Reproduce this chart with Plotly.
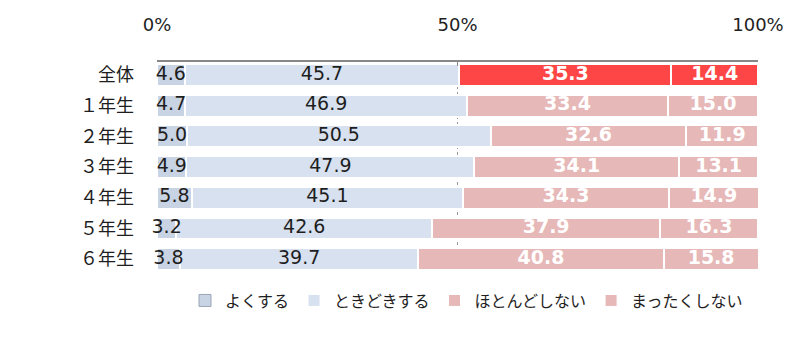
import plotly.graph_objects as go

categories = ["全体", "１年生", "２年生", "３年生", "４年生", "５年生", "６年生"]
series_names = ["よくする", "ときどきする", "ほとんどしない", "まったくしない"]
often = [4.6, 4.7, 5.0, 4.9, 5.8, 3.2, 3.8]
sometimes = [45.7, 46.9, 50.5, 47.9, 45.1, 42.6, 39.7]
rarely = [35.3, 33.4, 32.6, 34.1, 34.3, 37.9, 40.8]
never = [14.4, 15.0, 11.9, 13.1, 14.9, 16.3, 15.8]
tick_vals = [0, 50, 100]
tick_text = ["0%", "50%", "100%"]

values = [often, sometimes, rarely, never]
legend_colors = ["#c8d3e4", "#d7e1ef", "#e6b8b8", "#e6b8b8"]
row_colors = [
    ["#c8d3e4"] * 7,
    ["#d7e1ef"] * 7,
    ["#ff4646"] + ["#e6b8b8"] * 6,
    ["#ff4646"] + ["#e6b8b8"] * 6,
]
text_colors = ["#1e1e1e", "#1e1e1e", "#ffffff", "#ffffff"]

fig = go.Figure()
starts = [0.0] * len(categories)
for i, name in enumerate(series_names):
    fig.add_trace(go.Bar(
        name=name,
        y=categories,
        x=values[i],
        orientation="h",
        marker=dict(color=row_colors[i], line=dict(color="#ffffff", width=2)),
        showlegend=False,
        hoverinfo="skip",
    ))
    # value labels centred on each segment
    centres = [s + v / 2 for s, v in zip(starts, values[i])]
    fig.add_trace(go.Scatter(
        x=centres, y=categories, mode="text",
        text=[f"{v:.1f}" for v in values[i]],
        textposition="middle center",
        textfont=dict(color=text_colors[i], size=19, family="DejaVu Sans",
                      weight="bold" if i >= 2 else "normal"),
        showlegend=False, hoverinfo="skip", cliponaxis=False,
    ))
    starts = [s + v for s, v in zip(starts, values[i])]

# legend swatches
for i, name in enumerate(series_names):
    fig.add_trace(go.Bar(
        name=name, x=[None], y=[None], orientation="h",
        marker=dict(color=legend_colors[i],
                    line=dict(color="#9aa4b4" if i == 0 else "#ffffff", width=1)),
        showlegend=True,
    ))

fig.update_layout(
    barmode="stack",
    bargap=0.29,
    width=799, height=350,
    margin=dict(l=157, r=41, t=62, b=78),
    paper_bgcolor="white",
    plot_bgcolor="white",
    font=dict(family="Noto Sans CJK JP", size=16, color="#1e1e1e"),
    legend=dict(orientation="h", x=0.515, xanchor="center", y=-0.055, yanchor="top",
                font=dict(size=16, family="Noto Sans CJK JP"),
                itemwidth=30, traceorder="normal"),
    xaxis=dict(
        side="top", range=[0, 100], tickvals=tick_vals, ticktext=tick_text,
        tickfont=dict(size=18, family="DejaVu Sans", color="#1e1e1e"),
        ticklabelstandoff=22,
        showgrid=True, gridcolor="#999999", griddash="dot", gridwidth=1,
        showline=True, linecolor="#888888", linewidth=2,
        ticks="inside", ticklen=4, tickcolor="#888888",
        zeroline=False, fixedrange=True,
    ),
    yaxis=dict(
        categoryorder="array", categoryarray=categories,
        range=[6.42, -0.42], ticks="", ticklabelstandoff=22,
        tickfont=dict(size=18, family="Noto Sans CJK JP", color="#1e1e1e"),
        showgrid=False, showline=False, zeroline=False,
    ),
)

fig.write_html("out.html")
